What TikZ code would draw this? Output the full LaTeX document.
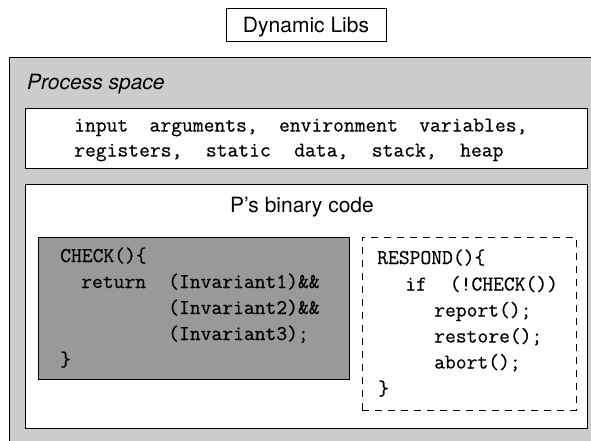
\documentclass[tikz,border=0pt]{standalone}
\usepackage{fontspec}
\setmainfont{TeX Gyre Heros}
\newfontfamily\codefont{Latin Modern Mono}[FakeBold=0.5]
\definecolor{spacegray}{gray}{0.8}
\definecolor{checkgray}{gray}{0.6}
\begin{document}
\begin{tikzpicture}[x=1pt,y=-1pt,
  frame/.style={draw=black, line width=0.9pt, inner sep=0pt, anchor=north west},
  caption/.style={font=\fontsize{21}{25}\selectfont, inner sep=0pt, anchor=base west},
  code/.style={font=\fontsize{21}{26}\selectfont\codefont, inner sep=0pt, anchor=base west},
]
\useasboundingbox (0,0) rectangle (591,440);
\clip (0,0) rectangle (591,440);

% boxes
\node[frame, minimum width=160pt, minimum height=33pt] (libs) at (226,8) {};
\node[frame, fill=spacegray, line width=1pt, minimum width=620pt, minimum height=420pt] (space) at (9,57) {};
\node[frame, fill=white, minimum width=562pt, minimum height=60pt] (data) at (25,108) {};
\node[frame, fill=white, minimum width=562pt, minimum height=244pt] (binary) at (25,184) {};
\node[frame, fill=checkgray, minimum width=311.5pt, minimum height=142pt] (check) at (37.5,237) {};
\node[frame, dash pattern=on 7pt off 6pt, minimum width=214pt, minimum height=173pt] (respond) at (362,237) {};

% labels
\node[caption, anchor=base] (libstext) at (306,32) {Dynamic Libs};
\node[caption, font=\fontsize{21}{25}\selectfont\itshape] (spacetext) at (27,89) {Process space};
\node[caption, anchor=base] (binarytext) at (302,212) {P’s binary code};

% process data
\node[code] (data1) at (74,131.5) {input\hspace{21.3pt}arguments,\hspace{21.3pt}environment\hspace{21.3pt}variables,};
\node[code] (data2) at (74,156.5) {registers,\hspace{23.5pt}static\hspace{23.5pt}data,\hspace{23.5pt}stack,\hspace{23.5pt}heap};

% CHECK routine
\node[code] (c1) at (60,262) {CHECK()\{};
\node[code] (c2) at (81,288) {return};
\node[code] (c3) at (168,288) {(Invariant1)\&\&};
\node[code] (c4) at (168,314) {(Invariant2)\&\&};
\node[code] (c5) at (168,340) {(Invariant3);};
\node[code] (c6) at (60,366) {\}};

% RESPOND routine
\node[code] (r1) at (377,264) {RESPOND()\{};
\node[code] (r2) at (405,290.5) {if\hspace{23pt}(!CHECK())};
\node[code] (r3) at (434,316.5) {report();};
\node[code] (r4) at (434,342.5) {restore();};
\node[code] (r5) at (434,368.5) {abort();};
\node[code] (r6) at (378,395) {\}};
\end{tikzpicture}
\end{document}
